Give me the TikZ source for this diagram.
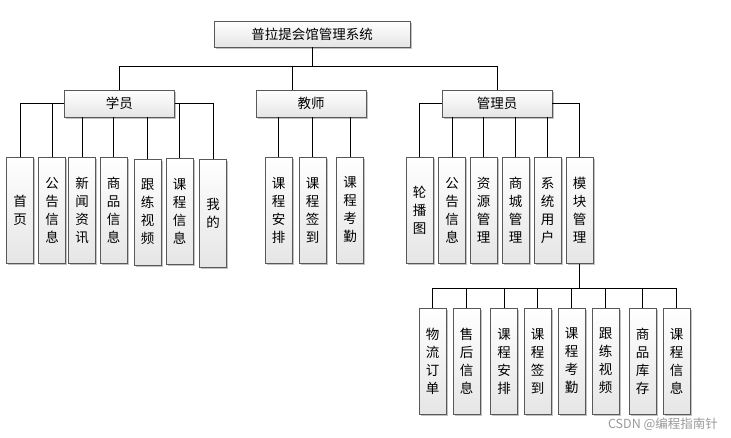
\documentclass[tikz,border=0pt]{standalone}
\usepackage{fontspec}
\setmainfont{Noto Sans CJK SC}
\usetikzlibrary{shadows}
\begin{document}
\begin{tikzpicture}[x=1pt,y=-1pt,
  box/.style={draw=black!65, line width=0.8pt, top color=white, bottom color=black!10,
    inner sep=0pt, align=center, font=\fontsize{13.5}{18}\selectfont,
    drop shadow={shadow xshift=1.5pt, shadow yshift=-1.5pt, fill=black!40, opacity=0.6}},
  hbox/.style={box, minimum height=27pt},
  vbox/.style={box, minimum width=27pt, minimum height=106pt},
  link/.style={draw=black, line width=0.8pt}]
\useasboundingbox (0,0) rectangle (731,437);
% root and second level
\node[hbox, minimum width=196pt, minimum height=26pt] (root) at (312,34) {普拉提会馆管理系统};
\node[hbox, minimum width=110pt] (stu) at (119.25,103.5) {学员};
\node[hbox, minimum width=110pt] (tea) at (311,103.5) {教师};
\node[hbox, minimum width=110pt] (adm) at (497,103.5) {管理员};
% student children
\node[vbox] (s1) at (20,210) {首\\页};
\node[vbox] (s2) at (52,210) {公\\告\\信\\息};
\node[vbox] (s3) at (82,210) {新\\闻\\资\\讯};
\node[vbox] (s4) at (113.5,210) {商\\品\\信\\息};
\node[vbox] (s5) at (147.5,212) {跟\\练\\视\\频};
\node[vbox] (s6) at (179.5,211.5) {课\\程\\信\\息};
\node[vbox, minimum height=108pt] (s7) at (213,213) {我\\的};
% teacher children
\node[vbox] (t1) at (278.5,210) {课\\程\\安\\排};
\node[vbox] (t2) at (312.5,210) {课\\程\\签\\到};
\node[vbox] (t3) at (350,210) {课\\程\\考\\勤};
% admin children
\node[vbox] (a1) at (419.5,210.5) {轮\\播\\图};
\node[vbox] (a2) at (452,210.5) {公\\告\\信\\息};
\node[vbox] (a3) at (483.5,210.5) {资\\源\\管\\理};
\node[vbox] (a4) at (515.5,210.5) {商\\城\\管\\理};
\node[vbox] (a5) at (547.5,210.5) {系\\统\\用\\户};
\node[vbox] (a6) at (579.5,210.5) {模\\块\\管\\理};
% module children
\node[vbox] (m1) at (432.5,361) {物\\流\\订\\单};
\node[vbox] (m2) at (466.5,361) {售\\后\\信\\息};
\node[vbox] (m3) at (504,361) {课\\程\\安\\排};
\node[vbox] (m4) at (537.5,361) {课\\程\\签\\到};
\node[vbox] (m5) at (571.5,361) {课\\程\\考\\勤};
\node[vbox] (m6) at (605.5,361) {跟\\练\\视\\频};
\node[vbox] (m7) at (642.5,361) {商\\品\\库\\存};
\node[vbox] (m8) at (676.5,361) {课\\程\\信\\息};
% connectors: root level
\draw[link] (root.south) -- ++(0,19) coordinate (b);
\draw[link] (stu.north) |- (adm.north |- b) -- (adm.north);
\draw[link] ([xshift=-19pt]tea.north) -- ([xshift=-19pt]tea.north |- b);
% student
\draw[link] (s1.north) |- (stu.west);
\draw[link] (s2.north) -- (s2.north |- stu.west);
\draw[link] (s7.north) |- (stu.east);
\draw[link] (s6.north) -- (s6.north |- stu.east);
\foreach \c in {s3,s4,s5} \draw[link] (\c.north) -- (\c.north |- stu.south);
% teacher
\foreach \c in {t1,t2,t3} \draw[link] (\c.north) -- (\c.north |- tea.south);
% admin
\draw[link] (a1.north) |- (adm.west);
\draw[link] (a6.north) |- (adm.east);
\foreach \c in {a2,a3,a4,a5} \draw[link] (\c.north) -- (\c.north |- adm.south);
% module
\draw[link] (a6.south) -- ++(0,24) coordinate (mb);
\draw[link] (m1.north) |- (m8.north |- mb) -- (m8.north);
\foreach \c in {m2,m3,m4,m5,m6,m7} \draw[link] (\c.north) -- (\c.north |- mb);
\node[text=black!40, font=\fontsize{12.5}{14}\selectfont] (wm) at (663,424) {CSDN @编程指南针};
\end{tikzpicture}
\end{document}
